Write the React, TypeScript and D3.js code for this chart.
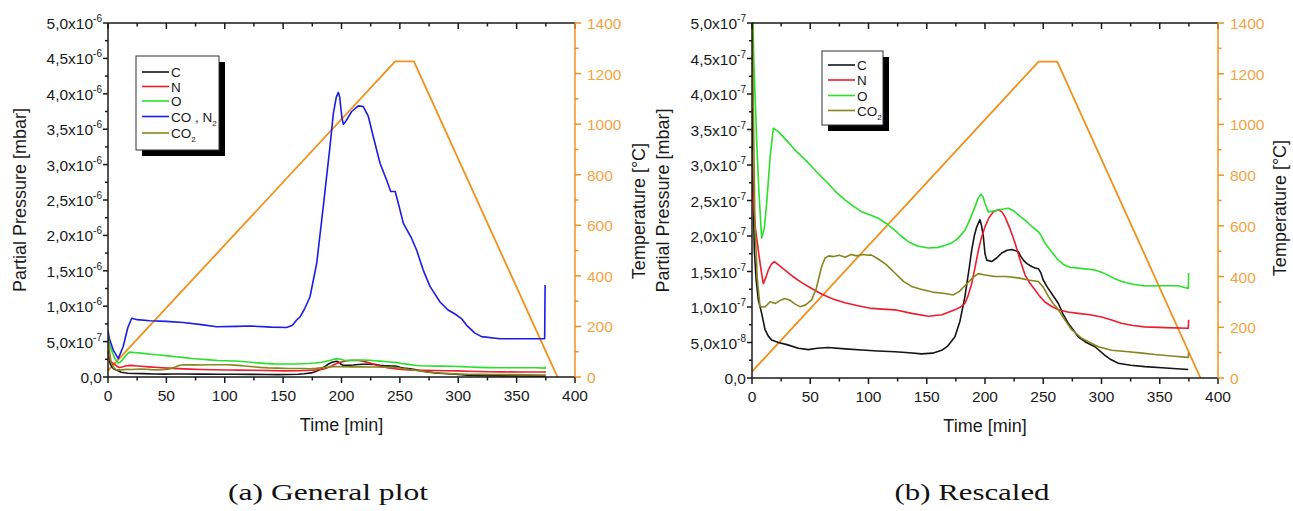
import React from "react";
import * as d3 from "d3";

// ---- time axis ----
const timeTicks = [0, 50, 100, 150, 200, 250, 300, 350, 400];

// ---- temperature programme (°C) ----
const tempTicks = [0, 200, 400, 600, 800, 1000, 1200, 1400];
const tempTime = [0, 246, 262, 385];
const tempValue = [25, 1248, 1248, 0];

// ---- partial pressures, in units of 1e-8 mbar ----
const coN2Time = [0, 1, 4.5, 8.8, 13, 17, 20.3, 25, 36, 50, 64.5, 80, 93, 110, 121.6, 140, 153, 158, 161.6, 164.5, 168, 173, 178.8, 184.4, 190.1, 193, 195.5, 197.3, 198.5, 199.3, 200.5, 201.6, 203.6, 208.7, 214.4, 218.7, 223, 227.3, 233, 238.7, 242.2, 246, 248.7, 253, 260, 264.4, 270, 275.8, 284.4, 291, 298.6, 303, 307.2, 314.3, 320, 335.7, 374, 374.4];
const coN2Value = [66, 55, 38, 26, 43, 70, 83, 81, 79.5, 78.5, 77, 74, 71, 71.5, 72, 70.5, 70, 73, 80.5, 85, 95, 113, 161, 241, 325, 372, 395, 402, 395, 382, 365, 357, 361, 375, 383, 382, 368, 339, 302, 278, 262, 262, 245, 217, 196, 179, 151, 128, 106, 95, 87.5, 82, 73, 62, 57, 54, 54, 130];

const oTime = [0, 1.5, 4, 6, 8.3, 10.5, 12.6, 15.5, 18.3, 22.6, 30, 36.9, 44, 51.2, 58, 65.5, 72, 79.8, 87, 94.2, 101, 108.4, 115, 122.7, 128, 134.2, 142, 151.3, 160, 166, 171.4, 177, 182.8, 187, 191.4, 194, 196.6, 198.3, 200, 202.9, 207, 211.5, 216, 220, 224, 228.6, 233, 237.2, 241, 245.8, 248, 251.5, 257, 262.9, 268, 273, 284, 294.4, 300, 303, 310, 317.3, 327, 337.3, 350, 366, 374.5, 374.8];
const oValue = [58, 45, 33.5, 26, 19.7, 21, 24.6, 31, 35.2, 34.7, 33.4, 32.1, 31, 29.8, 28.6, 27.4, 26.2, 25.1, 24.2, 23.4, 23.0, 22.5, 21.8, 20.8, 20.0, 19.2, 18.6, 18.3, 18.4, 18.7, 19.0, 19.7, 20.8, 22.3, 24.1, 25.3, 25.9, 25.5, 24.6, 23.4, 23.5, 23.7, 23.8, 23.9, 23.6, 22.96, 22.4, 21.8, 21.2, 20.6, 20.1, 19.0, 17.8, 16.6, 15.9, 15.6, 15.4, 15.2, 14.9, 14.7, 14.1, 13.6, 13.2, 12.96, 13.0, 13.0, 12.6, 14.8];

const nTime = [0, 0.5, 3, 5.4, 7.5, 9.7, 12, 14, 16.5, 19.2, 23, 28.3, 35, 43, 51.2, 60, 70, 79.8, 90, 102.7, 112, 122.7, 137, 151.3, 163, 174.2, 179, 182.8, 185.5, 188.6, 191.5, 194.3, 197, 200, 203.5, 207.2, 211.5, 214.5, 217.2, 221.5, 225.8, 230, 234.4, 238.7, 243, 247, 251.5, 257, 263, 271, 280, 290, 300, 308, 317, 327, 337, 355, 374.5, 374.8];
const nValue = [32, 26.5, 21, 18, 15.5, 13.3, 14.2, 15.2, 16.0, 16.4, 15.9, 15.2, 14.3, 13.4, 12.6, 11.8, 11.1, 10.6, 10.2, 9.8, 9.7, 9.6, 9.1, 8.7, 8.9, 9.6, 10.0, 10.5, 11.6, 13.3, 15.6, 18.0, 19.8, 21.3, 22.6, 23.4, 23.7, 23.4, 22.7, 21.0, 19.0, 16.7, 14.5, 13.3, 12.4, 11.5, 10.7, 10.1, 9.6, 9.3, 9.1, 8.9, 8.6, 8.2, 7.7, 7.4, 7.2, 7.1, 7.0, 8.2];

const cTime = [0, 0.5, 2, 3.5, 5.4, 8.3, 11.2, 14, 16.9, 22.6, 30, 39.8, 48.4, 56, 65.5, 80, 94.2, 108, 122.7, 135, 145.6, 155, 162.8, 168, 174.2, 178.5, 182.8, 186, 188.6, 190.8, 192.9, 195.7, 197, 198.6, 200, 201.5, 205.7, 210, 214.4, 219, 223, 228.6, 230.5, 232.9, 236, 240, 243, 245.8, 248, 250, 253.5, 257.2, 263, 267, 271.5, 280, 287, 294.4, 303, 308, 314.4, 325, 337.3, 355, 374.5];
const cValue = [38, 30, 18, 14, 11, 9.1, 6.8, 5.9, 5.35, 5.0, 4.7, 4.2, 4.0, 4.2, 4.3, 4.1, 3.94, 3.8, 3.7, 3.55, 3.4, 3.5, 3.9, 4.5, 5.8, 8, 11.5, 15, 18.0, 20, 21.3, 22.3, 21.5, 19.9, 17.5, 16.6, 16.4, 16.9, 17.6, 18.0, 18.1, 17.8, 17.2, 16.6, 16.1, 15.7, 15.5, 15.4, 14.8, 13.8, 12.8, 11.9, 10.5, 9.0, 7.7, 5.8, 5.0, 4.4, 3.2, 2.6, 2.07, 1.8, 1.6, 1.4, 1.2];

const co2Time = [0, 1, 2.5, 4.5, 6.9, 11.2, 15.5, 19.8, 24, 28.3, 33, 37, 41.2, 46, 51.2, 55, 59.8, 62.7, 66, 70, 75, 80, 85, 90, 95, 100, 102.7, 108, 115, 122, 130, 137, 145, 155, 165.7, 172.8, 178, 184, 190, 194.3, 200, 208.6, 218, 228.6, 237, 245.8, 250, 254.4, 258.5, 263, 268.5, 274.4, 283, 290, 297.3, 308.7, 323, 335, 346, 360, 374.5, 374.8];
const co2Value = [60, 40, 22, 14, 10.05, 10.0, 10.75, 10.5, 10.9, 11.2, 10.9, 10.4, 10.05, 10.3, 11.0, 12.5, 15.7, 16.9, 17.2, 17.1, 17.3, 17.0, 17.4, 17.2, 17.4, 17.3, 17.3, 16.8, 16.0, 14.9, 13.6, 12.9, 12.5, 12.1, 11.9, 11.7, 12.2, 13.2, 14.2, 14.7, 14.5, 14.3, 14.3, 14.1, 13.8, 13.6, 12.8, 11.5, 10.5, 9.6, 8.2, 6.8, 5.6, 5.0, 4.4, 3.9, 3.7, 3.5, 3.3, 3.1, 2.9, 3.6];

// ---- pressure tick labels: [mantissa, exponent] ----
const generalTickLabels: [string, string][] = [
  ["0,0", ""], ["5,0x10", "-7"], ["1,0x10", "-6"], ["1,5x10", "-6"], ["2,0x10", "-6"], ["2,5x10", "-6"],
  ["3,0x10", "-6"], ["3,5x10", "-6"], ["4,0x10", "-6"], ["4,5x10", "-6"], ["5,0x10", "-6"],
];
const rescaledTickLabels: [string, string][] = [
  ["0,0", ""], ["5,0x10", "-8"], ["1,0x10", "-7"], ["1,5x10", "-7"], ["2,0x10", "-7"], ["2,5x10", "-7"],
  ["3,0x10", "-7"], ["3,5x10", "-7"], ["4,0x10", "-7"], ["4,5x10", "-7"], ["5,0x10", "-7"],
];

const UNIT = 1e-8;
const ORANGE = "#f2901c";
const ORANGE_TEXT = "#f3a444";
const FONT = "'Liberation Sans', Arial, sans-serif";

type Series = { key: string; label: React.ReactNode; color: string; time: number[]; value: number[] };

const sC: Series = { key: "C", label: "C", color: "#151515", time: cTime, value: cValue };
const sN: Series = { key: "N", label: "N", color: "#ee1c2c", time: nTime, value: nValue };
const sO: Series = { key: "O", label: "O", color: "#2ae02a", time: oTime, value: oValue };
const sCO: Series = {
  key: "CON2",
  label: (<>CO , N<tspan fontSize={8} dy={4}>2</tspan></>),
  color: "#1c1ce6", time: coN2Time, value: coN2Value,
};
const sCO2: Series = {
  key: "CO2",
  label: (<>CO<tspan fontSize={8} dy={4}>2</tspan></>),
  color: "#86861e", time: co2Time, value: co2Value,
};

type Frame = { x0: number; x1: number; yTop: number; yBottom: number };
type LegendBox = { x: number; y: number; w: number; h: number; rowY: number[] };

function Panel(props: {
  id: string;
  frame: Frame;
  yMax: number;
  tickLabels: [string, string][];
  series: Series[];
  legend: LegendBox;
  leftTitleX: number;
  tempTitleX: number;
  tempTitleY: number;
}) {
  const { id, frame, yMax, tickLabels, series, legend } = props;
  const x = d3.scaleLinear().domain([0, 400]).range([frame.x0, frame.x1]);
  const y = d3.scaleLinear().domain([0, yMax]).range([frame.yBottom, frame.yTop]);
  const yT = d3.scaleLinear().domain([0, 1400]).range([frame.yBottom, frame.yTop]);

  const pressureLine = d3.line<[number, number]>().x((d) => x(d[0])).y((d) => y(d[1] * UNIT));
  const tempLine = d3.line<[number, number]>().x((d) => x(d[0])).y((d) => yT(d[1]));

  const yStep = yMax / 10;
  const yMajor = d3.range(0, 11).map((i) => i * yStep);
  const yMinor = d3.range(0, 10).map((i) => (i + 0.5) * yStep);
  const xMinor = d3.range(25, 400, 50);
  const tMinor = d3.range(100, 1400, 200);
  const midX = (frame.x0 + frame.x1) / 2;
  const midY = (frame.yTop + frame.yBottom) / 2;

  return (
    <g fontFamily={FONT}>
      <defs>
        <clipPath id={`clip-${id}`}>
          <rect x={frame.x0} y={frame.yTop - 1} width={frame.x1 - frame.x0} height={frame.yBottom - frame.yTop + 1} />
        </clipPath>
      </defs>

      {/* curves */}
      <g clipPath={`url(#clip-${id})`} fill="none" strokeWidth={1.6} strokeLinejoin="round">
        <path d={tempLine(tempTime.map((t, i) => [t, tempValue[i]] as [number, number])) || ""} stroke={ORANGE} strokeWidth={1.8} />
        {series.map((s) => (
          <path key={s.key} d={pressureLine(s.time.map((t, i) => [t, s.value[i]] as [number, number])) || ""} stroke={s.color} />
        ))}
      </g>

      {/* frame */}
      <g stroke="#1a1a1a" strokeWidth={1.5}>
        <line x1={frame.x0} x2={frame.x0} y1={frame.yTop} y2={frame.yBottom} />
        <line x1={frame.x0} x2={frame.x1} y1={frame.yBottom} y2={frame.yBottom} />
        <line x1={frame.x0} x2={frame.x1} y1={frame.yTop} y2={frame.yTop} />
        {timeTicks.map((t) => (
          <g key={`xt${t}`}>
            <line x1={x(t)} x2={x(t)} y1={frame.yBottom} y2={frame.yBottom + 6} />
            <line x1={x(t)} x2={x(t)} y1={frame.yTop} y2={frame.yTop + 6} />
          </g>
        ))}
        {xMinor.map((t) => (
          <g key={`xm${t}`}>
            <line x1={x(t)} x2={x(t)} y1={frame.yBottom} y2={frame.yBottom + 3.5} />
            <line x1={x(t)} x2={x(t)} y1={frame.yTop} y2={frame.yTop + 3.5} />
          </g>
        ))}
        {yMajor.map((v) => (
          <line key={`ym${v}`} x1={frame.x0 - 5} x2={frame.x0} y1={y(v)} y2={y(v)} />
        ))}
        {yMinor.map((v) => (
          <line key={`yn${v}`} x1={frame.x0 - 3} x2={frame.x0} y1={y(v)} y2={y(v)} />
        ))}
      </g>

      {/* temperature axis */}
      <g stroke={ORANGE} strokeWidth={1.5}>
        <line x1={frame.x1} x2={frame.x1} y1={frame.yTop} y2={frame.yBottom} />
        {tempTicks.map((v) => (
          <line key={`tt${v}`} x1={frame.x1} x2={frame.x1 + 6} y1={yT(v)} y2={yT(v)} />
        ))}
        {tMinor.map((v) => (
          <line key={`tm${v}`} x1={frame.x1} x2={frame.x1 + 3.5} y1={yT(v)} y2={yT(v)} />
        ))}
      </g>

      {/* tick labels */}
      <g fontSize={15.5} fill="#1a1a1a">
        {timeTicks.map((t) => (
          <text key={`xl${t}`} x={x(t)} y={frame.yBottom + 24} textAnchor="middle">{t}</text>
        ))}
        {yMajor.map((v, i) => (
          <text key={`yl${i}`} x={frame.x0 - 6} y={y(v) + 6} textAnchor="end">
            {tickLabels[i][0]}
            {tickLabels[i][1] && <tspan fontSize={10} dy={-7}>{tickLabels[i][1]}</tspan>}
          </text>
        ))}
      </g>
      <g fontSize={15.5} fill={ORANGE_TEXT}>
        {tempTicks.map((v) => (
          <text key={`tl${v}`} x={frame.x1 + 12} y={yT(v) + 6}>{v}</text>
        ))}
      </g>

      {/* axis titles */}
      <g fontSize={18} fill="#1a1a1a">
        <text x={midX} y={frame.yBottom + 54} textAnchor="middle">Time [min]</text>
        <text transform={`translate(${props.leftTitleX},${midY}) rotate(-90)`} textAnchor="middle">Partial Pressure [mbar]</text>
        <text transform={`translate(${props.tempTitleX},${props.tempTitleY}) rotate(-90)`} textAnchor="middle">Temperature [°C]</text>
      </g>

      {/* legend */}
      <g>
        <rect x={legend.x + 6} y={legend.y + 6} width={legend.w} height={legend.h} fill="#000" />
        <rect x={legend.x} y={legend.y} width={legend.w} height={legend.h} fill="#fff" stroke="#333" strokeWidth={1} />
        {series.map((s, i) => (
          <g key={`lg${s.key}`}>
            <line x1={legend.x + 6} x2={legend.x + 33} y1={legend.rowY[i]} y2={legend.rowY[i]} stroke={s.color} strokeWidth={1.6} />
            <text x={legend.x + 35} y={legend.rowY[i] + 5} fontSize={13.5} fill="#1a1a1a">{s.label}</text>
          </g>
        ))}
      </g>
    </g>
  );
}

export default function App() {
  return (
    <svg width={1293} height={511} viewBox="0 0 1293 511" style={{ position: "absolute", left: 0, top: 0, background: "#fff" }}>
      <rect width={1293} height={511} fill="#fff" />
      <Panel
        id="general"
        frame={{ x0: 108, x1: 575, yTop: 23, yBottom: 377 }}
        yMax={5e-6}
        tickLabels={generalTickLabels}
        series={[sC, sN, sO, sCO, sCO2]}
        legend={{ x: 136, y: 56, w: 83, h: 94, rowY: [72, 86.5, 101, 116.5, 133] }}
        leftTitleX={26}
        tempTitleX={645}
        tempTitleY={211}
      />
      <Panel
        id="rescaled"
        frame={{ x0: 752, x1: 1218, yTop: 23, yBottom: 378 }}
        yMax={5e-7}
        tickLabels={rescaledTickLabels}
        series={[sC, sN, sO, sCO2]}
        legend={{ x: 822, y: 51, w: 61, h: 74, rowY: [65, 80, 95.5, 110.5] }}
        leftTitleX={669}
        tempTitleX={1286}
        tempTitleY={208}
      />
      <g fontFamily="'Liberation Serif', 'DejaVu Serif', serif" fontSize={23} fill="#111">
        <text x={328} y={500} textAnchor="middle" textLength={200} lengthAdjust="spacingAndGlyphs">(a) General plot</text>
        <text x={972} y={500} textAnchor="middle" textLength={155} lengthAdjust="spacingAndGlyphs">(b) Rescaled</text>
      </g>
    </svg>
  );
}
